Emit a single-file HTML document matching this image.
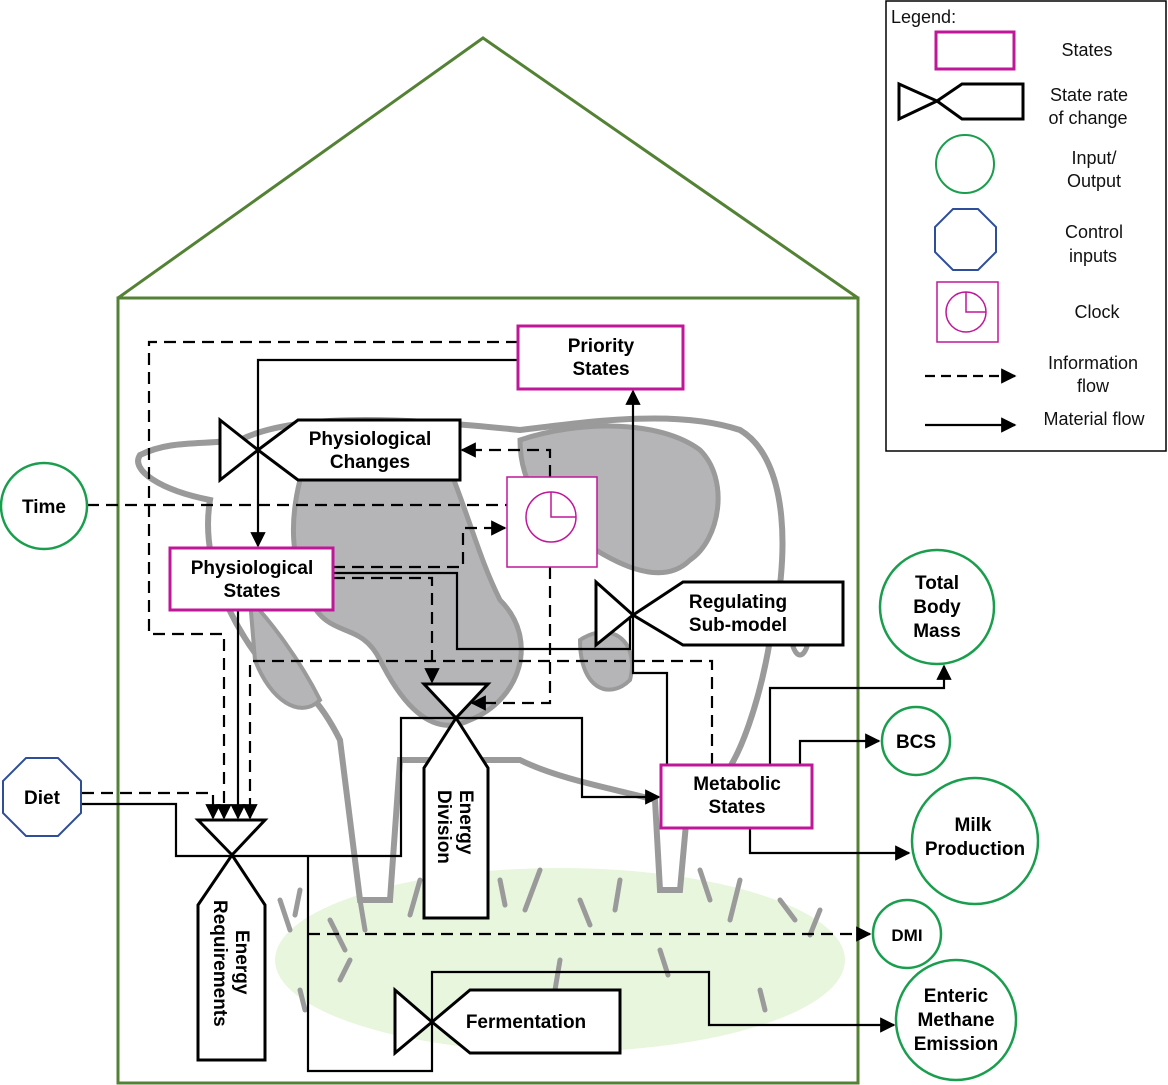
<!DOCTYPE html>
<html><head><meta charset="utf-8"><style>
html,body{margin:0;padding:0;background:#fff;}
svg{display:block;}
text{font-family:"Liberation Sans","DejaVu Sans",sans-serif;}
.b{font-weight:bold;font-size:19px;fill:#000;}
.lg{font-size:18px;fill:#111;}
</style></head><body>
<svg width="1168" height="1085" viewBox="0 0 1168 1085" xmlns="http://www.w3.org/2000/svg">
<defs>
<marker id="ah" viewBox="0 0 10 10" refX="9" refY="5" markerWidth="7" markerHeight="7" orient="auto"><path d="M0,0L10,5L0,10z" fill="#000"/></marker>
</defs>

<!-- background cow & grass -->
<g>
<ellipse cx="560" cy="960" rx="285" ry="92" fill="#e8f6de"/>
<path d="M240,440 C300,410 420,420 520,430 C600,420 680,410 740,430 C790,460 790,560 770,640 C760,700 740,760 720,780 L690,780 L680,890 L660,890 L655,800 C620,790 560,780 520,760 L480,760 L470,900 L440,900 L430,760 L400,760 L390,900 L360,900 L340,740 C320,700 300,680 260,660 C230,620 200,560 210,500 C160,490 130,470 140,455 C170,440 200,445 240,440 Z" fill="#fff" stroke="#9a9a9a" stroke-width="6"/>
<path d="M300,480 C330,440 420,440 450,470 C470,520 480,560 500,600 C540,640 520,700 470,720 C430,740 400,700 380,660 C360,620 330,640 310,600 C290,560 290,520 300,480 Z" fill="#b5b5b8" stroke="#9a9a9a" stroke-width="5"/>
<path d="M520,440 C580,420 660,420 700,450 C730,480 720,540 690,560 C660,590 610,560 580,540 C550,520 520,490 520,440 Z" fill="#b5b5b8" stroke="#9a9a9a" stroke-width="5"/>
<path d="M250,600 C270,620 300,660 320,700 C300,720 270,700 255,660 Z" fill="#b5b5b8" stroke="#9a9a9a" stroke-width="4"/>
<path d="M580,640 C610,620 640,640 630,680 C610,700 580,690 580,640 Z" fill="#b5b5b8" stroke="#9a9a9a" stroke-width="4"/>
<ellipse cx="800" cy="625" rx="10" ry="30" fill="#fff" stroke="#9a9a9a" stroke-width="5"/>
<g stroke="#9a9a9a" stroke-width="5" fill="none" stroke-linecap="round">
<path d="M280,900 l10,30 M300,890 l-5,25 M330,920 l15,30 M360,900 l5,30 M420,880 l-10,35 M500,880 l5,25 M540,870 l-15,40 M580,900 l10,25 M620,880 l-5,30 M700,870 l10,30 M740,880 l-10,40 M780,900 l15,20 M820,910 l-10,25 M300,990 l5,20 M560,960 l-5,30 M660,950 l8,25 M760,990 l5,20 M350,960 l-10,20 M600,1000 l5,20"/>
</g>
</g>

<!-- house -->
<g fill="none" stroke="#548235" stroke-width="3">
<path d="M118,298 L483,38 L858,298"/>
<rect x="118" y="298" width="740" height="785"/>
</g>

<!-- flows: solid -->
<g fill="none" stroke="#000" stroke-width="2.2">
<path d="M518,360 H258 V546" marker-end="url(#ah)"/>
<path d="M633,615 V391" marker-end="url(#ah)"/>
<path d="M333,573 H457 V649 H630 V615"/>
<path d="M633,615 V673 H667 V765"/>
<path d="M456,718 H401 V856 H232"/>
<path d="M456,718 H582 V797 H659" marker-end="url(#ah)"/>
<path d="M82,804 H176 V856 H232"/>
<path d="M308,856 V1071 H432 V972 H709 V1025 H894" marker-end="url(#ah)"/>
<path d="M770,765 V688 H944 V666" marker-end="url(#ah)"/>
<path d="M800,765 V741 H879" marker-end="url(#ah)"/>
<path d="M750,828 V853 H909" marker-end="url(#ah)"/>
<path d="M238,610 V818" marker-end="url(#ah)"/>
</g>
<!-- flows: dashed -->
<g fill="none" stroke="#000" stroke-width="2.2" stroke-dasharray="12,7">
<path d="M518,342 H149 V634 H224 V818" marker-end="url(#ah)"/>
<path d="M87,505 H507"/>
<path d="M550,567 V703 H472" marker-end="url(#ah)"/>
<path d="M550,477 V450 H462" marker-end="url(#ah)"/>
<path d="M333,567 H463 V528 H505" marker-end="url(#ah)"/>
<path d="M333,578 H432 V682" marker-end="url(#ah)"/>
<path d="M82,793 H213 V818" marker-end="url(#ah)"/>
<path d="M712,765 V661 H250 V818" marker-end="url(#ah)"/>
<path d="M308,934 H870" marker-end="url(#ah)"/>
</g>

<!-- states -->
<g>
<rect x="518" y="326" width="165" height="63" fill="#fff" stroke="#c0169a" stroke-width="3"/>
<text class="b" x="601" y="352" text-anchor="middle">Priority</text>
<text class="b" x="601" y="375" text-anchor="middle">States</text>
</g>
<g>
<rect x="170" y="548" width="163" height="62" fill="#fff" stroke="#c0169a" stroke-width="3"/>
<text class="b" x="252" y="574" text-anchor="middle">Physiological</text>
<text class="b" x="252" y="597" text-anchor="middle">States</text>
</g>
<g>
<rect x="661" y="765" width="151" height="63" fill="#fff" stroke="#c0169a" stroke-width="3"/>
<text class="b" x="737" y="790" text-anchor="middle">Metabolic</text>
<text class="b" x="737" y="813" text-anchor="middle">States</text>
</g>
<g>
<rect x="507" y="477" width="90" height="90" fill="#fff" stroke="#c0169a" stroke-width="1.5"/>
<circle cx="551" cy="517" r="25" fill="none" stroke="#c0169a" stroke-width="1.5"/>
<path d="M551,492 V517 H576" fill="none" stroke="#c0169a" stroke-width="1.5"/>
</g>

<!-- rate valves -->
<g fill="#fff" stroke="#000" stroke-width="3">
<g>
<path d="M220,420 L258,450 L220,480 Z"/>
<path d="M258,450 L298,420 H460 V480 H298 Z"/>
<text class="b" x="370" y="445" text-anchor="middle" stroke="none">Physiological</text>
<text class="b" x="370" y="468" text-anchor="middle" stroke="none">Changes</text>
</g>
<g>
<path d="M596,582 L633,615 L596,645 Z"/>
<path d="M633,615 L683,582 H843 V645 H683 Z"/>
<text class="b" x="738" y="608" text-anchor="middle" stroke="none">Regulating</text>
<text class="b" x="738" y="631" text-anchor="middle" stroke="none">Sub-model</text>
</g>
<g>
<path d="M424,684 H488 L456,718 Z"/>
<path d="M456,718 L488,768 V918 H424 V768 Z"/>
<text class="b" transform="translate(456,790) rotate(90)" stroke="none"><tspan x="0" dy="-4">Energy</tspan><tspan x="0" dy="22">Division</tspan></text>
</g>
<g>
<path d="M198,820 H265 L232,855 Z"/>
<path d="M232,855 L265,905 V1060 H198 V905 Z"/>
<text class="b" transform="translate(232,900) rotate(90)" stroke="none"><tspan x="30" dy="-4">Energy</tspan><tspan x="0" dy="22">Requirements</tspan></text>
</g>
<g>
<path d="M395,990 L432,1022 L395,1053 Z"/>
<path d="M432,1022 L470,990 H620 V1053 H470 Z"/>
<text class="b" x="526" y="1028" text-anchor="middle" stroke="none">Fermentation</text>
</g>
</g>

<!-- inputs/outputs -->
<g fill="#fff" stroke="#1a9e4e" stroke-width="2.5">
<g><circle cx="44" cy="506" r="43"/><text class="b" x="44" y="513" text-anchor="middle" stroke="none">Time</text></g>
<g><circle cx="937" cy="607" r="57"/><text class="b" x="937" y="589" text-anchor="middle" stroke="none">Total</text><text class="b" x="937" y="613" text-anchor="middle" stroke="none">Body</text><text class="b" x="937" y="637" text-anchor="middle" stroke="none">Mass</text></g>
<g><circle cx="916" cy="741" r="34"/><text class="b" x="916" y="748" text-anchor="middle" stroke="none">BCS</text></g>
<g><circle cx="975" cy="841" r="63"/><text class="b" x="973" y="831" text-anchor="middle" stroke="none">Milk</text><text class="b" x="975" y="855" text-anchor="middle" stroke="none">Production</text></g>
<g><circle cx="907" cy="934" r="34"/><text class="b" x="907" y="941" text-anchor="middle" stroke="none" style="font-size:17px">DMI</text></g>
<g><circle cx="956" cy="1020" r="60"/><text class="b" x="956" y="1002" text-anchor="middle" stroke="none">Enteric</text><text class="b" x="956" y="1026" text-anchor="middle" stroke="none">Methane</text><text class="b" x="956" y="1050" text-anchor="middle" stroke="none">Emission</text></g>
</g>
<g>
<path d="M26,758 H58 L81,781 V813 L58,836 H26 L3,813 V781 Z" fill="#fff" stroke="#2e4e9a" stroke-width="2"/>
<text class="b" x="42" y="804" text-anchor="middle">Diet</text>
</g>

<!-- legend -->
<g>
<rect x="886" y="1" width="280" height="450" fill="#fff" stroke="#000" stroke-width="1.5"/>
<text class="lg" x="891" y="23">Legend:</text>
<rect x="936" y="32" width="78" height="37" fill="none" stroke="#c0169a" stroke-width="3"/>
<text class="lg" x="1087" y="56" text-anchor="middle">States</text>
<g fill="none" stroke="#000" stroke-width="3">
<path d="M899,84 L937,101 L899,119 Z"/><path d="M937,101 L962,84 H1023 V119 H962 Z"/></g>
<text class="lg" x="1089" y="101" text-anchor="middle">State rate</text>
<text class="lg" x="1088" y="124" text-anchor="middle">of change</text>
<circle cx="965" cy="164" r="29" fill="none" stroke="#1a9e4e" stroke-width="2"/>
<text class="lg" x="1094" y="164" text-anchor="middle">Input/</text>
<text class="lg" x="1094" y="187" text-anchor="middle">Output</text>
<path d="M953,209 H978 L996,227 V252 L978,270 H953 L935,252 V227 Z" fill="none" stroke="#2e4e9a" stroke-width="2"/>
<text class="lg" x="1094" y="238" text-anchor="middle">Control</text>
<text class="lg" x="1093" y="262" text-anchor="middle">inputs</text>
<g fill="none" stroke="#c0169a" stroke-width="1.5">
<rect x="937" y="282" width="61" height="60"/><circle cx="966" cy="312" r="20"/><path d="M966,292 V312 H986"/></g>
<text class="lg" x="1097" y="318" text-anchor="middle">Clock</text>
<path d="M925,376 H1015" stroke="#000" stroke-width="2.2" stroke-dasharray="10,6" fill="none" marker-end="url(#ah)"/>
<text class="lg" x="1093" y="369" text-anchor="middle">Information</text>
<text class="lg" x="1093" y="392" text-anchor="middle">flow</text>
<path d="M925,425 H1015" stroke="#000" stroke-width="2.2" fill="none" marker-end="url(#ah)"/>
<text class="lg" x="1094" y="425" text-anchor="middle">Material flow</text>
</g>
</svg>
</body></html>
